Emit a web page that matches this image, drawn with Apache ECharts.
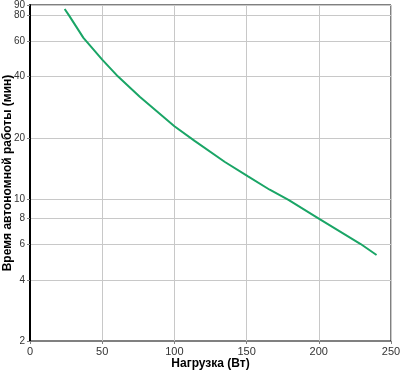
<!DOCTYPE html>
<html>
<head>
<meta charset="utf-8">
<script src="https://cdn.jsdelivr.net/npm/echarts@6/dist/echarts.min.js"></script>
<style>
    html, body { margin: 0; padding: 0; background: #fff; }
    #chart { width: 400px; height: 373px; }
</style>
</head>
<body>
<div id="chart"></div>
<script>
    // нагрузка (Вт) / время (мин)
    var loadW = [24, 27, 37, 50, 61, 76, 100, 114, 135, 151, 166, 179, 200, 229, 240];
    var runtimeMin = [86, 80, 62, 48.5, 40, 31.8, 22.8, 19.3, 15.2, 12.9, 11.1, 9.9, 8, 6, 5.3];
    var yTicks = [2, 4, 6, 8, 10, 20, 40, 60, 80, 89.999];

    var myChart = echarts.init(document.getElementById('chart'));

    var lineData = loadW.map(function (x, i) {
        return [x, runtimeMin[i]];
    });

    var option = {
        animation: false,
        grid: {
            left: 30, right: 9, top: 5, bottom: 32,
            outerBoundsMode: 'none',
            containLabel: false,
            show: true,
            borderColor: '#000',
            borderWidth: 1
        },
        xAxis: {
            type: 'value',
            min: 0, max: 250, interval: 50,
            name: 'Нагрузка (Вт)',
            nameLocation: 'middle',
            nameGap: 17,
            nameMoveOverlap: false,
            nameTextStyle: { fontFamily: 'Liberation Sans', fontSize: 12, fontWeight: 'bold', color: '#000' },
            axisLine: { lineStyle: { color: '#808080', width: 1 } },
            axisTick: { show: true, length: 3, lineStyle: { color: '#808080' } },
            axisLabel: { fontFamily: 'Liberation Sans', fontSize: 11, color: '#333', margin: 5 },
            splitLine: { show: true, lineStyle: { color: '#c8c8c8', width: 1 } }
        },
        yAxis: {
            type: 'log',
            logBase: 10,
            min: 2, max: 90,
            name: 'Время автономной работы (мин)',
            nameLocation: 'middle',
            nameGap: 16,
            nameMoveOverlap: false,
            nameTextStyle: { fontFamily: 'Liberation Sans', fontSize: 12, fontWeight: 'bold', color: '#000' },
            axisLine: { show: true, lineStyle: { color: '#000', width: 2 } },
            axisTick: { show: true, length: 3, customValues: yTicks, lineStyle: { color: '#808080' } },
            axisLabel: {
                fontFamily: 'Liberation Sans', fontSize: 10, color: '#333', margin: 5,
                customValues: yTicks,
                hideOverlap: false,
                showMaxLabel: true,
                formatter: function (v) { return Math.round(v); }
            },
            splitLine: { show: true, lineStyle: { color: '#c8c8c8', width: 1 } }
        },
        series: [{
            type: 'line',
            data: lineData,
            smooth: false,
            showSymbol: false,
            lineStyle: { color: '#1aa566', width: 2 }
        }]
    };
    myChart.setOption(option);
</script>
</body>
</html>
